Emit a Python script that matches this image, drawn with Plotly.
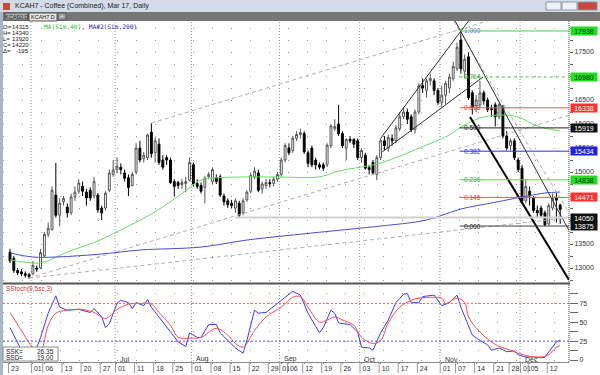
import plotly.graph_objects as go
import pandas as pd

# ---------------- data ----------------
holidays = ["2016-05-30", "2016-07-04", "2016-09-05", "2016-11-24"]
trade_days = [d.strftime("%Y-%m-%d") for d in pd.bdate_range("2016-05-23", "2016-12-15")
              if d.strftime("%Y-%m-%d") not in holidays]

opens = [13330, 13200, 12950, 12920, 12880, 12860, 12880, 13000, 13000, 13250,
         13700, 13800, 14520, 14100, 14380, 14270, 14150, 14480, 14600, 14700,
         14580, 14620, 14500, 14520, 14250, 14250, 14620, 14950, 15050, 15100,
         14980, 14880, 14720, 15000, 15500, 15280, 15300, 15830, 15400, 15580,
         15250, 15300, 15250, 14800, 14780, 14740, 14760, 14830, 15150, 14760,
         14720, 14680, 14900, 14800, 14880, 14900, 14500, 14400, 14350, 14250,
         14350, 14150, 14420, 14600, 14900, 14980, 14650, 14720, 14780, 14760,
         14850, 14950, 15250, 15500, 15450, 15700, 15780, 15800, 15400, 15500,
         15250, 15150, 15150, 15150, 15550, 15900, 16000, 15800, 15500, 15680,
         15680, 15650, 15300, 15350, 15100, 15200, 14950, 15300, 15650, 15500,
         15700, 15650, 15900, 16150, 16250, 16150, 15880, 16250, 16800, 16700,
         16900, 16900, 16700, 16450, 16600, 16750, 16950, 17150, 17750, 17100,
         17400, 16650, 16380, 16400, 16650, 16500, 16320, 16400, 16150, 16350,
         15750, 15550, 15650, 15250, 15080, 14400, 14600, 14450, 14200, 14250,
         14150, 13920, 14250, 14450, 14315]
highs = [13400, 13250, 13000, 12980, 12930, 12900, 13150, 13050, 13400, 13750,
         13950, 14700, 15190, 14450, 14500, 14350, 14550, 14700, 14850, 14800,
         14650, 14680, 14900, 14560, 14300, 14600, 15050, 15250, 15300, 15180,
         15050, 14950, 15000, 15600, 15650, 15420, 15800, 16020, 15720, 15700,
         15350, 15350, 15300, 14850, 14820, 14850, 14900, 15300, 15200, 14850,
         14780, 14920, 15000, 15100, 14950, 14950, 14550, 14450, 14420, 14450,
         14400, 14450, 14620, 14980, 15100, 15050, 14800, 14850, 14850, 14900,
         15000, 15300, 15600, 15600, 15750, 15850, 15900, 15850, 15450, 15550,
         15300, 15200, 15200, 15600, 16000, 16100, 16400, 15850, 15700, 15750,
         15700, 15700, 15500, 15400, 15150, 15250, 15350, 15700, 15750, 15780,
         15780, 15980, 16250, 16350, 16320, 16200, 16300, 16850, 16950, 16950,
         17050, 16950, 16750, 16800, 16900, 17050, 17300, 17700, 17938, 17450,
         17500, 16700, 16600, 16900, 16700, 16550, 16400, 16450, 16450, 16400,
         15850, 15700, 15700, 15300, 15150, 14850, 14700, 14500, 14300, 14300,
         14200, 14350, 14550, 14560, 14340]
lows = [13100, 12900, 12850, 12830, 12800, 12780, 12850, 12920, 12980, 13230,
        13650, 13780, 14050, 13870, 14300, 14050, 14100, 14400, 14550, 14500,
        14300, 14400, 14450, 14150, 14000, 14200, 14580, 14900, 14980, 14950,
        14800, 14500, 14700, 14950, 15200, 15200, 15250, 15300, 15200, 15150,
        15050, 15150, 14750, 14500, 14650, 14650, 14580, 14800, 14700, 14650,
        14550, 14350, 14850, 14750, 14750, 14480, 14300, 14250, 14250, 14150,
        14050, 14100, 14380, 14550, 14850, 14580, 14550, 14650, 14680, 14700,
        14800, 14900, 15200, 15350, 15400, 15650, 15700, 15380, 15100, 15100,
        15050, 15050, 15020, 15100, 15500, 15850, 15750, 15500, 15250, 15600,
        15500, 15250, 15200, 15050, 14950, 14950, 14830, 15250, 15450, 15420,
        15550, 15600, 15850, 16100, 16000, 15830, 15800, 16200, 16650, 16550,
        16800, 16600, 16400, 16350, 16420, 16650, 16900, 17100, 17050, 16950,
        16500, 16200, 16250, 16350, 16400, 16250, 16150, 15950, 16100, 15700,
        15450, 15450, 15250, 15000, 14350, 14350, 14300, 14150, 14050, 14050,
        13870, 13880, 14200, 13950, 13920]
closes = [13150, 12950, 12900, 12880, 12850, 12820, 13050, 12980, 13320, 13700,
          13830, 14620, 14100, 14350, 14450, 14150, 14480, 14580, 14770, 14600,
          14460, 14460, 14800, 14210, 14150, 14560, 14980, 15040, 15120, 15050,
          14870, 14680, 14950, 15500, 15250, 15350, 15770, 15380, 15650, 15200,
          15100, 15250, 14780, 14700, 14720, 14780, 14800, 15200, 14750, 14700,
          14600, 14870, 14950, 15050, 14800, 14520, 14380, 14320, 14300, 14400,
          14100, 14400, 14580, 14930, 15020, 14620, 14750, 14780, 14760, 14850,
          14950, 15250, 15550, 15400, 15700, 15780, 15820, 15420, 15180, 15150,
          15150, 15100, 15080, 15560, 15960, 15950, 15800, 15550, 15680, 15650,
          15580, 15300, 15450, 15080, 15050, 14980, 15300, 15650, 15550, 15720,
          15650, 15920, 16150, 16250, 16100, 15880, 16250, 16800, 16750, 16900,
          16950, 16700, 16450, 16600, 16850, 16980, 17200, 17600, 17150, 17350,
          16550, 16350, 16500, 16650, 16480, 16300, 16300, 16150, 16400, 15750,
          15500, 15650, 15300, 15050, 14400, 14700, 14500, 14200, 14150, 14100,
          13900, 14300, 14450, 14415, 14220]

# moving averages read at selected sessions (session index, value)
ma40_idx = [0, 6, 9, 15, 23, 30, 37, 43, 50, 53, 60, 70, 81, 86, 92, 97, 109, 115, 118, 123, 128, 133, 138, 144]
ma40_val = [13167, 13104, 13125, 13333, 13563, 13833, 14125, 14437, 14833, 14875, 14896, 14896, 14900,
            15021, 15104, 15187, 15562, 15771, 15937, 16125, 16187, 16146, 15958, 15854]
ma200_idx = [0, 6, 12, 24, 34, 50, 62, 79, 92, 97, 109, 118, 126, 134, 140, 144]
ma200_val = [13313, 13229, 13229, 13292, 13375, 13437, 13583, 13729, 13833, 13875, 14000, 14229,
             14354, 14479, 14563, 14583]

# slow stochastic read at selected sessions
stk_idx = [0, 3, 5, 6, 8, 10, 12, 13, 15, 18, 21, 22, 24, 25, 26, 28, 29, 31, 32, 33, 35, 36, 37, 39, 41,
           43, 44, 46, 47, 49, 50, 52, 54, 55, 58, 59, 61, 62, 64, 65, 67, 70, 72, 74, 76, 78, 81, 82, 84,
           85, 86, 89, 91, 92, 94, 95, 97, 99, 101, 103, 104, 105, 107, 108, 111, 112, 113, 115, 117, 118,
           119, 121, 123, 125, 126, 128, 130, 132, 133, 135, 137, 139, 140, 141, 143, 144]
stk_val = [43, 13, 4, 2, 30, 62, 85, 70, 66, 67, 63, 68, 57, 43, 48, 75, 79, 76, 68, 76, 72, 80, 70, 57, 43,
           30, 24, 18, 36, 30, 30, 47, 47, 36, 20, 16, 9, 26, 66, 62, 63, 75, 83, 91, 86, 62, 36, 43, 66,
           62, 49, 47, 37, 17, 16, 13, 36, 53, 76, 87, 88, 76, 76, 84, 86, 79, 72, 76, 86, 70,
           57, 33, 26, 20, 13, 16, 11, 12, 7, 4, 4, 3, 4, 11, 24, 26.35]
std_idx = [0, 3, 6, 8, 10, 12, 15, 19, 22, 25, 28, 31, 34, 37, 39, 42, 44, 47, 50, 54, 57, 59, 61, 64, 67,
           71, 74, 76, 78, 81, 83, 85, 87, 90, 92, 95, 97, 99, 102, 105, 107, 111, 113, 114, 117, 119, 120,
           123, 126, 128, 131, 133, 136, 139, 141, 143, 144]
std_val = [63, 39, 17, 13, 46, 62, 66, 67, 63, 55, 67, 74, 75, 74, 63, 46, 30, 29, 30, 42, 33, 22, 17, 39, 57,
           70, 83, 84, 70, 50, 53, 57, 53, 46, 30, 22, 26, 49, 70, 79, 82, 83, 82, 75, 82, 76, 57,
           37, 24, 18, 13, 9, 5, 4, 7, 17, 19.00]

# Fibonacci retracement of the Nov high
fib_ratios = ["1.000", "0.764", "0.618", "0.500", "0.382", "0.236", "0.146", "0.000"]
fib_levels = [17938, 16980, 16338, 15919, 15434, 14838, 14471, 13875]
fib_start = "2016-11-08"
support_level = 14050
support_start = "2016-08-16"

tick_dates = ["2016-05-23", "2016-06-01", "2016-06-06", "2016-06-13", "2016-06-20", "2016-06-27",
              "2016-07-01", "2016-07-11", "2016-07-18", "2016-07-25", "2016-08-01", "2016-08-08",
              "2016-08-15", "2016-08-22", "2016-08-29", "2016-09-01", "2016-09-06", "2016-09-12",
              "2016-09-19", "2016-09-26", "2016-10-03", "2016-10-10", "2016-10-17", "2016-10-24",
              "2016-11-01", "2016-11-07", "2016-11-14", "2016-11-21", "2016-11-28", "2016-12-01",
              "2016-12-05", "2016-12-12"]
month_starts = ["2016-06-01", "2016-07-01", "2016-08-01", "2016-09-01", "2016-10-03", "2016-11-01", "2016-12-01"]
month_names = ["Jun", "Jul", "Aug", "Sep", "Oct", "Nov", "Dec"]

price_labels = [13000, 13500, 15000, 15500, 16000, 16500, 17500]

info_labels = ["O=", "H=", "L=", "C=", "\u0394="]
info_values = ["14315", "14340", "13920", "14220", "-195"]

# ---------------- geometry helpers (page pixels -> paper) ----------------
W, H = 600, 375
ML, MR, MT, MB = 3, 31, 21, 13
PW, PH = W - ML - MR, H - MT - MB
def PX(x): return (x - ML) / PW
def PY(y): return (H - MB - y) / PH

n = len(trade_days)
xs = list(range(n))
pos = {d: i for i, d in enumerate(trade_days)}
XR = [-1.83, 146.3]
FONT = "Liberation Sans"

fig = go.Figure()

fig.add_trace(go.Candlestick(
    x=xs, open=opens, high=highs, low=lows, close=closes,
    increasing=dict(line=dict(color="#555555", width=1), fillcolor="#ffffff"),
    decreasing=dict(line=dict(color="#000000", width=1), fillcolor="#000000"),
    whiskerwidth=0, xaxis="x", yaxis="y", hoverinfo="skip"))

fig.add_trace(go.Scatter(x=ma40_idx, y=ma40_val, mode="lines", line=dict(color="#66dd66", width=1, shape="spline"),
                         xaxis="x", yaxis="y"))
fig.add_trace(go.Scatter(x=ma200_idx, y=ma200_val, mode="lines", line=dict(color="#4a4ad8", width=1, shape="spline"),
                         xaxis="x", yaxis="y"))

# trend lines drawn by the analyst (session index, price)
gray_lines = [((37, 16020), (125, 18146)),
              ((5, 12790), (146.3, 16180)),
              ((5, 12790), (146.3, 14050)),
              ((116.1, 18146), (146.3, 14150))]
for (a, b) in gray_lines:
    fig.add_trace(go.Scatter(x=[a[0], b[0]], y=[a[1], b[1]], mode="lines",
                             line=dict(color="#b0b0b0", width=1, dash="4px,3px"), xaxis="x", yaxis="y"))
black_lines = [((97, 15700), (120, 18146)),
               ((97.4, 15417), (123.8, 16979)),
               ((116.5, 18146), (146.3, 13780))]
for (a, b) in black_lines:
    fig.add_trace(go.Scatter(x=[a[0], b[0]], y=[a[1], b[1]], mode="lines",
                             line=dict(color="#303030", width=1), xaxis="x", yaxis="y"))
fig.add_trace(go.Scatter(x=[120.4, 146.3], y=[16146, 12750], mode="lines",
                         line=dict(color="#000000", width=2), xaxis="x", yaxis="y"))

# support line
fig.add_trace(go.Scatter(x=[pos[support_start], XR[1]], y=[support_level, support_level], mode="lines",
                         line=dict(color="#cfcfcf", width=2), xaxis="x", yaxis="y"))

fib_line_colors = ["#33dd33", "#33cc33", "#ff5050", "#202020", "#2a2aff", "#44dd44", "#ff5050", "#404040"]
fib_text_colors = ["#6a7ad8", "#33aa33", "#ff3030", "#202020", "#2a2aff", "#33bb33", "#ff3030", "#202020"]
fib_dash = ["solid", "dot", "solid", "solid", "solid", "solid", "solid", "solid"]
for lv, c, d in zip(fib_levels, fib_line_colors, fib_dash):
    fig.add_trace(go.Scatter(x=[pos[fib_start] - 0.3, XR[1]], y=[lv, lv], mode="lines",
                             line=dict(color=c, width=1, dash=d), xaxis="x", yaxis="y"))

# stochastic
fig.add_trace(go.Scatter(x=stk_idx, y=stk_val, mode="lines", line=dict(color="#3b3bff", width=1),
                         xaxis="x2", yaxis="y2"))
fig.add_trace(go.Scatter(x=std_idx, y=std_val, mode="lines", line=dict(color="#ff4a4a", width=1, shape="spline"),
                         xaxis="x2", yaxis="y2"))

tick_idx = [pos[d] for d in tick_dates]
tick_txt = [d[-2:] for d in tick_dates]

price_ticks = list(range(12750, 18251, 250))
price_text = [str(v) if v in price_labels else "" for v in price_ticks]

fig.update_layout(
    width=W, height=H, margin=dict(l=ML, r=MR, t=MT, b=MB),
    paper_bgcolor="white", plot_bgcolor="white", showlegend=False,
    font=dict(family=FONT, size=7, color="#333333"),
    xaxis=dict(domain=[0, 1], anchor="y", range=XR, showticklabels=False, showgrid=False,
               zeroline=False, rangeslider=dict(visible=False), ticks=""),
    yaxis=dict(domain=[PY(283), 1], range=[12688, 18146], side="right", tickvals=price_ticks,
               ticktext=price_text, ticks="outside", ticklen=3, tickcolor="#666", showgrid=True,
               gridcolor="#9a9a9a", griddash="1px,18px", zeroline=False,
               tickfont=dict(size=7, color="#333")),
    xaxis2=dict(domain=[0, 1], anchor="y2", range=XR, matches="x", tickvals=tick_idx, ticktext=tick_txt,
                ticks="outside", ticklen=1, tickcolor="#888", ticklabelposition="outside right",
                tickangle=0, showgrid=False, zeroline=False,
                showline=True, linecolor="#888", tickfont=dict(size=7, color="#333")),
    yaxis2=dict(domain=[0, PY(284.5)], range=[-2.6, 100], side="right",
                tickvals=[0, 12.5, 25, 37.5, 50, 62.5, 75, 87.5], ticktext=["0", "", "25", "", "50", "", "75", ""],
                ticks="outside", ticklen=8, tickcolor="#666", showgrid=True, gridcolor="#9a9a9a",
                griddash="1px,18px", zeroline=False, tickfont=dict(size=7, color="#333")),
)

shapes = []
# month dividers
for d in month_starts:
    shapes.append(dict(type="line", xref="x", yref="paper", x0=pos[d] - 0.5, x1=pos[d] - 0.5, y0=0, y1=1,
                       line=dict(color="#999999", width=1, dash="1px,2px"), layer="below"))
# date separators under the time axis
for i in tick_idx:
    shapes.append(dict(type="line", xref="x2", yref="paper", x0=i - 0.4, x1=i - 0.4, y0=PY(373), y1=PY(362),
                       line=dict(color="#999999", width=1)))
# stochastic guide lines
shapes.append(dict(type="line", xref="paper", yref="y2", x0=0, x1=1, y0=75, y1=75,
                   line=dict(color="#ff5a5a", width=1, dash="2px,2px")))
shapes.append(dict(type="line", xref="paper", yref="y2", x0=0, x1=1, y0=25, y1=25,
                   line=dict(color="#5050ff", width=1, dash="2px,2px")))
# panel separator
shapes.append(dict(type="line", xref="paper", yref="paper", x0=PX(3), x1=PX(570), y0=PY(283.5), y1=PY(283.5),
                   line=dict(color="#555555", width=2)))
# right axis border
shapes.append(dict(type="line", xref="paper", yref="paper", x0=1, x1=1, y0=0, y1=1,
                   line=dict(color="#444444", width=1, dash="1px,1px")))
# window chrome
shapes.append(dict(type="rect", xref="paper", yref="paper", x0=PX(0), x1=PX(600), y0=PY(12), y1=PY(0),
                   fillcolor="#d3dbe6", line=dict(width=0), layer="below"))
shapes.append(dict(type="rect", xref="paper", yref="paper", x0=PX(0), x1=PX(600), y0=PY(21), y1=PY(12),
                   fillcolor="#767676", line=dict(width=0), layer="below"))
shapes.append(dict(type="rect", xref="paper", yref="paper", x0=PX(5), x1=PX(28), y0=PY(20), y1=PY(13),
                   fillcolor="#a9a9a9", line=dict(color="#555", width=1), layer="below"))
shapes.append(dict(type="rect", xref="paper", yref="paper", x0=PX(29), x1=PX(57), y0=PY(21), y1=PY(13),
                   fillcolor="#e4e4e4", line=dict(color="#555", width=1), layer="below"))
shapes.append(dict(type="rect", xref="paper", yref="paper", x0=PX(58), x1=PX(66), y0=PY(20), y1=PY(13),
                   fillcolor="#9a9a9a", line=dict(color="#555", width=1), layer="below"))
shapes.append(dict(type="rect", xref="paper", yref="paper", x0=PX(0), x1=PX(3), y0=PY(375), y1=PY(12),
                   fillcolor="#a8b6ca", line=dict(width=0)))
shapes.append(dict(type="rect", xref="paper", yref="paper", x0=PX(3), x1=PX(10), y0=PY(10), y1=PY(3),
                   fillcolor="#c84a3a", line=dict(width=0)))
for (a, b, col) in [(546, 561, "#eef1f5"), (562, 577, "#eef1f5"), (578, 597, "#c8463a")]:
    shapes.append(dict(type="rect", xref="paper", yref="paper", x0=PX(a), x1=PX(b), y0=PY(10), y1=PY(2),
                       fillcolor=col, line=dict(color="#8a96a8", width=1)))
# stochastic readout box
shapes.append(dict(type="rect", xref="paper", yref="paper", x0=PX(3), x1=PX(58), y0=PY(361), y1=PY(347),
                   fillcolor="white", line=dict(color="#888", width=1)))

ann = []
def txt(x, y, s, color="#222", size=7, anchor="left", family=FONT, **kw):
    ann.append(dict(xref="paper", yref="paper", x=PX(x), y=PY(y), text=s, showarrow=False,
                    xanchor=anchor, yanchor="middle", font=dict(family=family, size=size, color=color),
                    borderpad=0, **kw))

txt(14, 6, "KCAH7 - Coffee (Combined), Mar 17, Daily", size=7)
txt(16.5, 16.5, "KCAS0.D", size=5.5, anchor="center")
txt(43, 17, "KCAH7.D", size=5.5, anchor="center")
txt(62, 16.5, "+", size=6.5, anchor="center", color="#eee")
for i, (lab, val) in enumerate(zip(info_labels, info_values)):
    txt(2, 27 + 6 * i, lab, size=6)
    txt(30, 27 + 6 * i, val, size=6, anchor="right")
txt(43, 26.5, '<span style="color:#2db82d">MA(Sim,40)</span>, <span style="color:#2424c8">MA#2(Sim,200)</span>',
    size=6.2, family="DejaVu Sans Mono", color="#2424c8")
txt(5, 289, "SStoch(9,5sc,3)", size=6.5, color="#e03030")
txt(5, 351, "SSK=", size=6.5)
txt(55, 351, "26.35", size=6.5, anchor="right")
txt(5, 357, "SSD=", size=6.5)
txt(55, 357, "19.00", size=6.5, anchor="right")

for d, m in zip(month_starts, month_names):
    if m == "Jun":
        continue
    ann.append(dict(xref="x2", yref="paper", x=pos[d] + 0.2, y=PY(359), text=m, showarrow=False,
                    xanchor="left", yanchor="middle", font=dict(size=7, color="#333")))

for r, lv, c in zip(fib_ratios, fib_levels, fib_text_colors):
    ann.append(dict(xref="x", yref="y", x=pos[fib_start] + 0.3, y=lv, text=r, showarrow=False,
                    xanchor="left", yanchor="middle", font=dict(size=6.5, color=c)))

box_bg = ["#22dd22", "#22dd22", "#ff3030", "#111111", "#2020e0", "#22dd22", "#ff3030", "#111111"]
box_fg = ["#003300", "#003300", "#ffffff", "#ffffff", "#ffffff", "#003300", "#ffffff", "#ffffff"]
for lv, bg, fg in zip(fib_levels, box_bg, box_fg):
    ann.append(dict(xref="paper", yref="y", x=1, y=lv, text=str(lv), showarrow=False, xanchor="left",
                    yanchor="middle", xshift=1, bgcolor=bg, width=26, height=8, borderpad=0,
                    font=dict(size=7, color=fg)))
ann.append(dict(xref="paper", yref="y", x=1, y=support_level, text=str(support_level), showarrow=False,
                xanchor="left", yanchor="middle", xshift=1, bgcolor="#111111", width=26, height=8,
                borderpad=0, font=dict(size=7, color="#ffffff")))

fig.update_layout(shapes=shapes, annotations=ann)
fig.write_html("out.html", config={"displayModeBar": False},
               post_script="document.body.style.margin='0px';document.body.style.overflow='hidden';")
